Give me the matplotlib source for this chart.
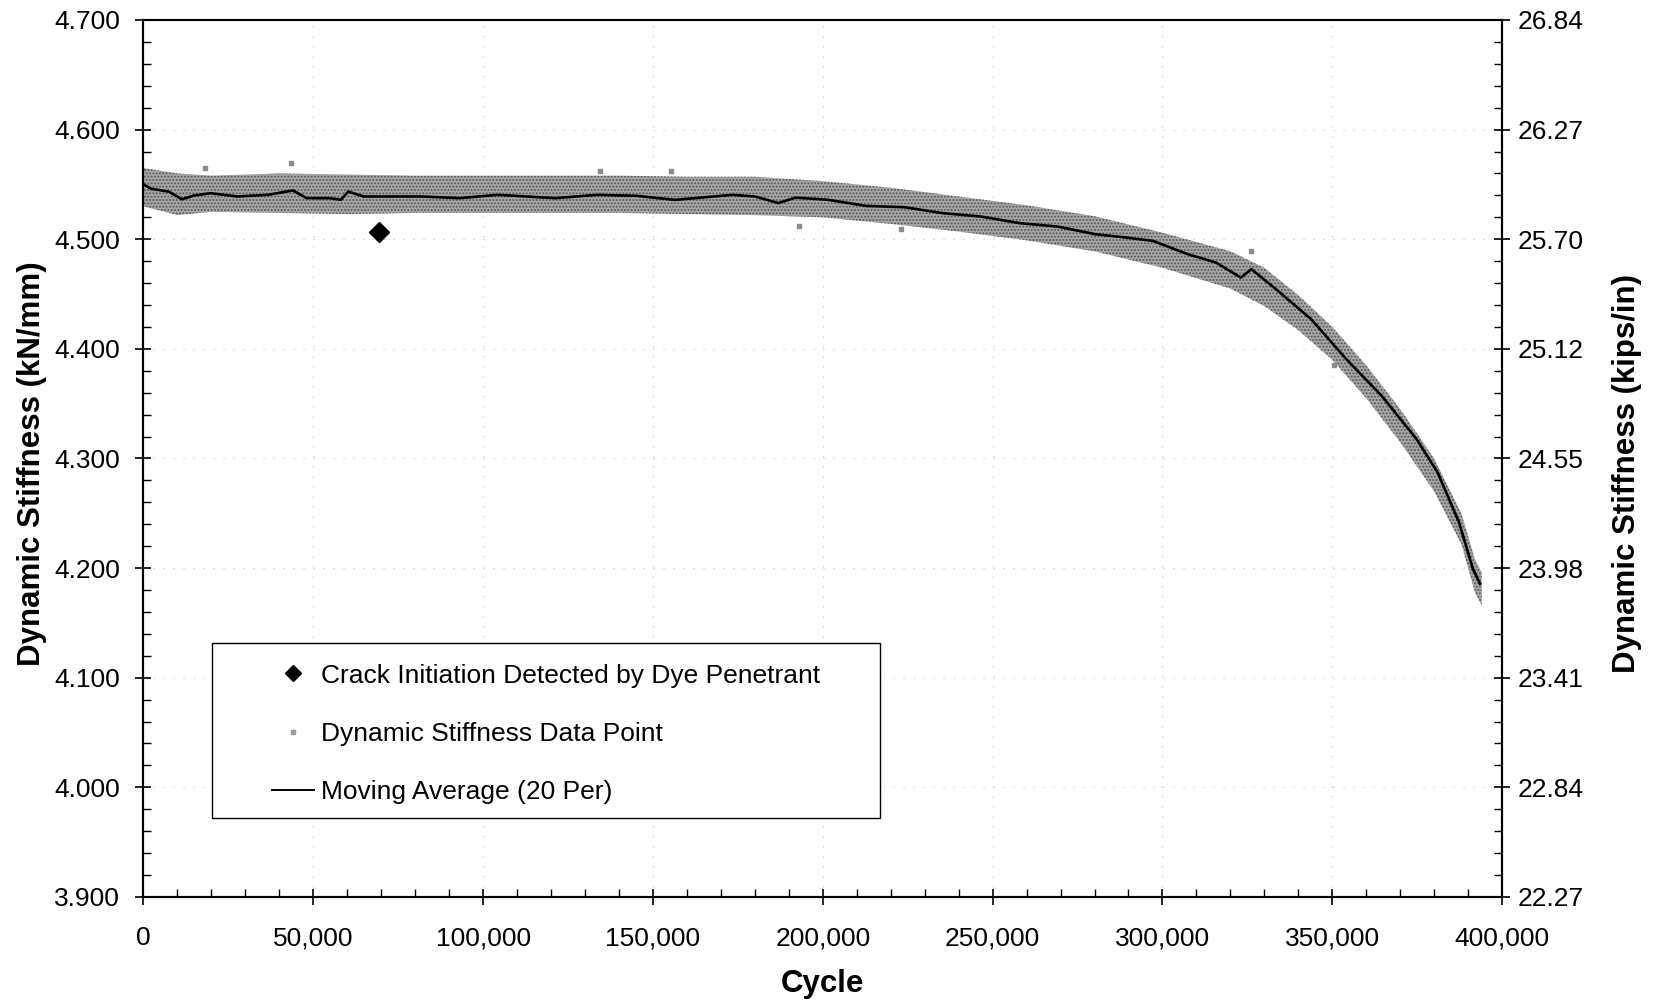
import matplotlib.pyplot as plt
from matplotlib.patches import Rectangle
from matplotlib.lines import Line2D
from matplotlib.ticker import MultipleLocator, FuncFormatter

plt.rcParams['font.family'] = ['Liberation Sans', 'DejaVu Sans']
plt.rcParams['hatch.linewidth'] = 0.9

# moving average (20 per), kN/mm
ma_cycles = [0, 2300, 7400, 11300, 15000, 19800, 27600, 36700, 44000, 48000,
             54700, 58100, 60300, 64800, 81700, 93000, 104300, 121200, 133600,
             145200, 156500, 173400, 180000, 186900, 192000, 201500, 212800,
             224100, 235300, 246600, 257900, 269100, 280400, 288000, 297200,
             307500, 315800, 323100, 326200, 333400, 343800, 354100, 364500,
             374800, 381000, 387300, 391400, 393500]
ma_stiff = [4.550, 4.546, 4.5435, 4.5365, 4.540, 4.542, 4.539, 4.5405, 4.5445,
            4.5375, 4.5375, 4.536, 4.5435, 4.539, 4.539, 4.5375, 4.5405, 4.5375,
            4.5405, 4.5396, 4.5359, 4.5405, 4.539, 4.533, 4.538, 4.536, 4.5304,
            4.5292, 4.5238, 4.5207, 4.5147, 4.5116, 4.5045, 4.502, 4.4985,
            4.4863, 4.4787, 4.465, 4.4727, 4.4545, 4.427, 4.3907, 4.3573,
            4.3178, 4.2874, 4.2419, 4.1994, 4.1857]

# upper / lower edge of the cloud of data points
band_cycles = [0, 10000, 20000, 40000, 60000, 80000, 100000, 120000, 140000,
               160000, 180000, 200000, 220000, 240000, 260000, 280000, 300000,
               320000, 330000, 340000, 350000, 360000, 370000, 380000, 388000,
               392000, 394000]
band_upper = [4.565, 4.560, 4.558, 4.560, 4.559, 4.558, 4.558, 4.558, 4.558,
              4.557, 4.557, 4.553, 4.547, 4.539, 4.531, 4.521, 4.506, 4.489,
              4.474, 4.449, 4.420, 4.385, 4.345, 4.300, 4.250, 4.208, 4.196]
band_lower = [4.530, 4.522, 4.525, 4.524, 4.523, 4.524, 4.524, 4.524, 4.524,
              4.523, 4.522, 4.520, 4.514, 4.507, 4.499, 4.489, 4.474, 4.455,
              4.439, 4.417, 4.390, 4.355, 4.315, 4.270, 4.222, 4.178, 4.166]

# stray data points outside the cloud
stray_cycles = [43500, 18000, 134500, 155300, 193100, 222900, 326000, 350500]
stray_stiff = [4.570, 4.565, 4.562, 4.562, 4.512, 4.509, 4.489, 4.385]

crack_cycles = [69300]
crack_stiff = [4.507]

kn_ticks = [3.9, 4.0, 4.1, 4.2, 4.3, 4.4, 4.5, 4.6, 4.7]
cycle_ticks = [0, 50000, 100000, 150000, 200000, 250000, 300000, 350000, 400000]
kips_factor = 5.71  # kN/mm -> kips/in

fig = plt.figure(figsize=(16.53, 10.05), dpi=100)
ax = fig.add_axes([0.0868, 0.1075, 0.8219, 0.8726])

ax.fill_between(band_cycles, band_lower, band_upper, facecolor='#a6a6a6',
                edgecolor='#555555', hatch='.....', linewidth=0, zorder=2)
ax.scatter(stray_cycles, stray_stiff, s=6, marker='s', color='#8c8c8c', zorder=2)
ax.plot(ma_cycles, ma_stiff, color='black', lw=1.9, zorder=4)
ax.plot(crack_cycles, crack_stiff, 'D', color='black', ms=10, zorder=5)

ax.set_xlim(0, 400000)
ax.set_ylim(3.9, 4.7)
ax.set_xticks(cycle_ticks)
ax.set_yticks(kn_ticks)
ax.xaxis.set_minor_locator(MultipleLocator(10000))
ax.yaxis.set_minor_locator(MultipleLocator(0.02))
ax.xaxis.set_major_formatter(FuncFormatter(lambda v, p: f'{v:,.0f}'))
ax.yaxis.set_major_formatter(FuncFormatter(lambda v, p: f'{v:.3f}'))
ax.grid(True, which='major', linestyle=(0, (1, 8)), color='#c4c4c4', lw=0.8)
ax.set_axisbelow(True)

ax.tick_params(which='major', direction='inout', length=12, width=1.2,
               labelsize=19, top=False, right=False)
ax.tick_params(which='minor', direction='in', length=6, width=1.0,
               top=False, right=False)
ax.tick_params(axis='x', which='major', pad=15)
ax.tick_params(axis='y', which='major', pad=11)
for s in ax.spines.values():
    s.set_linewidth(1.5)

ax2 = ax.twinx()
ax2.set_ylim(3.9 * kips_factor, 4.7 * kips_factor)
ax2.set_yticks([t * kips_factor for t in kn_ticks])
ax2.yaxis.set_major_formatter(FuncFormatter(lambda v, p: f'{v:.2f}'))
ax2.yaxis.set_minor_locator(MultipleLocator(0.02 * kips_factor))
ax2.tick_params(which='major', direction='inout', length=12, width=1.2,
                labelsize=19, pad=5)
ax2.tick_params(which='minor', direction='in', length=6, width=1.0)
for s in ax2.spines.values():
    s.set_linewidth(1.5)

ax.set_xlabel('Cycle', fontsize=22.5, fontweight='bold', va='center')
ax.xaxis.set_label_coords(0.5, -0.0987)
ax.set_ylabel('Dynamic Stiffness (kN/mm)', fontsize=22.5, fontweight='bold', va='center')
ax.yaxis.set_label_coords(-0.0823, 0.494)
ax2.set_ylabel('Dynamic Stiffness (kips/in)', fontsize=22.5, fontweight='bold',
               va='center', rotation=90)
ax2.yaxis.set_label_coords(1.092, 0.483)

# legend box
ax2.add_patch(Rectangle((0.0505, 0.0901), 0.4917, 0.1995, transform=ax.transAxes,
                        facecolor='white', edgecolor='black', lw=1.0, zorder=6))
handles = [
    Line2D([], [], ls='none', marker='D', color='black', ms=8),
    Line2D([], [], ls='none', marker='s', color='#9a9a9a', ms=2.5),
    Line2D([], [], color='black', lw=1.4),
]
labels = ['Crack Initiation Detected by Dye Penetrant',
          'Dynamic Stiffness Data Point',
          'Moving Average (20 Per)']
leg = ax2.legend(handles, labels, loc='upper left', bbox_to_anchor=(0.0947, 0.266),
                 bbox_transform=ax.transAxes, frameon=False, fontsize=19,
                 borderpad=0, borderaxespad=0, handlelength=1.6, handletextpad=0.25,
                 labelspacing=1.3)
leg.set_zorder(7)

fig.savefig('out.png', dpi=100)
